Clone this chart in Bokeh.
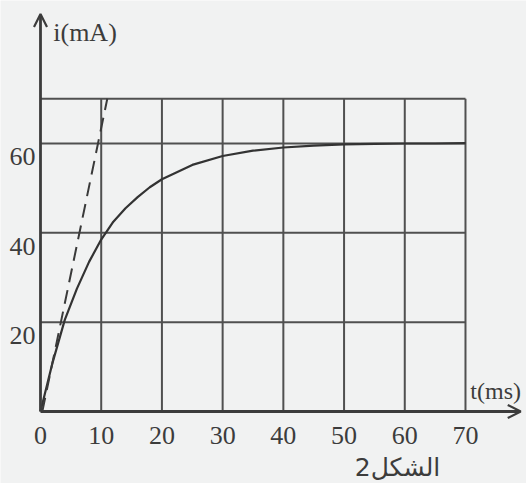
from bokeh.plotting import figure
from bokeh.models import Range1d, Arrow, OpenHead
from bokeh.core.properties import value
from bokeh.embed import file_html
from bokeh.resources import INLINE

# ---- data ----
t_ms = [0, 2, 4, 6, 8, 10, 12, 14, 16, 18, 20, 25, 30, 35, 40, 45, 50, 55, 60, 65, 70]
i_mA = [0, 11, 20.5, 27.5, 33.5, 38.5, 42.5, 45.5, 48, 50.2, 52, 55.2, 57.2, 58.4, 59.1, 59.5, 59.8, 59.9, 60, 60, 60.1]

tangent_t = [0.3, 11.0]
tangent_i = [0, 70]

x_ticks = [0, 10, 20, 30, 40, 50, 60, 70]
x_tick_labels = ["0", "10", "20", "30", "40", "50", "60", "70"]
y_ticks = [20, 40, 60]
y_tick_labels = ["20", "40", "60"]
x_grid = [10, 20, 30, 40, 50, 60, 70]
y_grid = [20, 40, 60, 70]
grid_max_t = 70
grid_max_i = 70
x_axis_end = 79.1
y_axis_end = 89.0

x_label = "t(ms)"
y_label = "i(mA)"
caption = "الشكل2"

BG = "#f1f2f2"
INK = "#3c3c3c"

W, H = 526, 483
p = figure(width=W, height=H, output_backend="svg", toolbar_location=None,
           x_range=Range1d(-6.588, 80.05), y_range=Range1d(-16.12, 92.01),
           x_axis_type=None, y_axis_type=None, min_border=0)
p.outline_line_color = None
p.background_fill_color = BG
p.border_fill_color = BG

# grid
p.segment(x0=x_grid, y0=[0] * len(x_grid), x1=x_grid, y1=[grid_max_i] * len(x_grid),
          line_color="#505050", line_width=2)
p.segment(x0=[0] * len(y_grid), y0=y_grid, x1=[grid_max_t] * len(y_grid), y1=y_grid,
          line_color="#505050", line_width=2)

# axes with arrows
p.add_layout(Arrow(end=OpenHead(size=13, line_width=2.2, line_color=INK),
                   x_start=0, y_start=0, x_end=0, y_end=y_axis_end,
                   line_width=2.8, line_color=INK))
p.add_layout(Arrow(end=OpenHead(size=13, line_width=2.2, line_color=INK),
                   x_start=0, y_start=0, x_end=x_axis_end, y_end=0,
                   line_width=2.8, line_color=INK))

# curve and tangent
p.line(t_ms, i_mA, line_color="#333333", line_width=2.2)
p.line(tangent_t, tangent_i, line_color="#3a3a3a", line_width=2, line_dash="14 8")

serif = value("Liberation Serif")
# tick labels
p.text(x=x_ticks, y=[0] * len(x_ticks), text=x_tick_labels, text_font=serif,
       text_font_size="26px", text_align="center", text_baseline="top",
       y_offset=16, text_color=INK)
p.text(x=[0] * len(y_ticks), y=y_ticks, text=y_tick_labels, text_font=serif,
       text_font_size="26px", text_align="right", text_baseline="top",
       x_offset=-5, y_offset=5, text_color=INK)

# axis titles
p.text(x=[2.1], y=[84.8], text=[y_label], text_font=serif, text_font_size="26px",
       text_align="left", text_baseline="middle", text_color=INK)
p.text(x=[70.8], y=[4.5], text=[x_label], text_font=serif, text_font_size="24px",
       text_align="left", text_baseline="middle", text_color=INK)

# caption
p.text(x=[58.8], y=[-12.6], text=[caption], text_font=value("DejaVu Sans"),
       text_font_size="25px", text_align="center", text_baseline="middle", text_color=INK)

open("out.html", "w").write(file_html(p, INLINE))
